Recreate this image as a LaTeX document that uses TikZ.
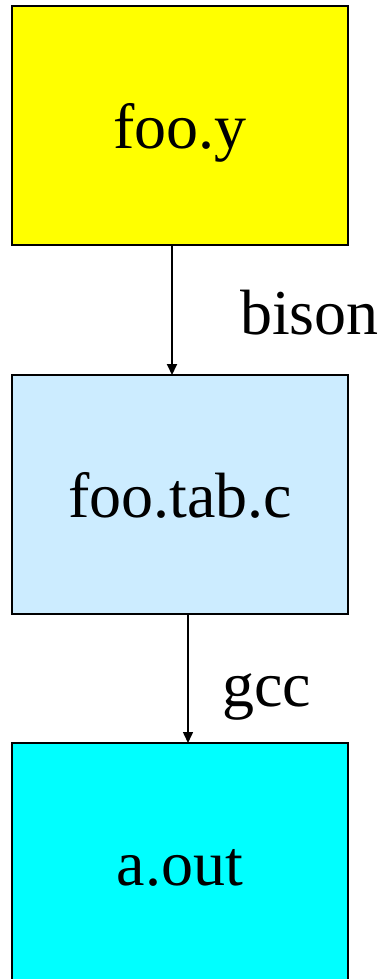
\documentclass[tikz,border=0pt]{standalone}
\usepackage{fontspec}
\setmainfont{Liberation Serif}
\usetikzlibrary{arrows.meta}
\definecolor{boxyellow}{HTML}{FFFF00}
\definecolor{boxblue}{HTML}{CCECFF}
\definecolor{boxcyan}{HTML}{00FFFF}
\tikzset{
  filebox/.style={draw=black, line width=2pt, minimum width=336pt, minimum height=239pt,
    inner sep=0pt, outer sep=0pt, text height=50pt, text depth=4pt,
    font=\fontsize{64}{70}\selectfont},
  tool/.style={anchor=base west, inner sep=0pt, font=\fontsize{64}{70}\selectfont},
  flow/.style={-{Triangle[length=11pt,width=10pt]}, draw=black}
}
\begin{document}
\begin{tikzpicture}[x=1pt,y=-1pt]
\useasboundingbox (0,0) rectangle (381,979);
\node[filebox, fill=boxyellow] (src) at (180,125.5) {foo.y};
\node[filebox, fill=boxblue] (tab) at (180,494.5) {foo.tab.c};
\node[filebox, fill=boxcyan] (aout) at (180,862.5) {a.out};
\draw[flow, line width=2pt] ([xshift=-8pt]src.south) -- ([xshift=-8pt]tab.north);
\draw[flow, line width=1.5pt] ([xshift=8pt]tab.south) -- ([xshift=8pt]aout.north);
\node[tool] (bison) at (240,334) {bison};
\node[tool] (gcc) at (222,706) {gcc};
\end{tikzpicture}
\end{document}
